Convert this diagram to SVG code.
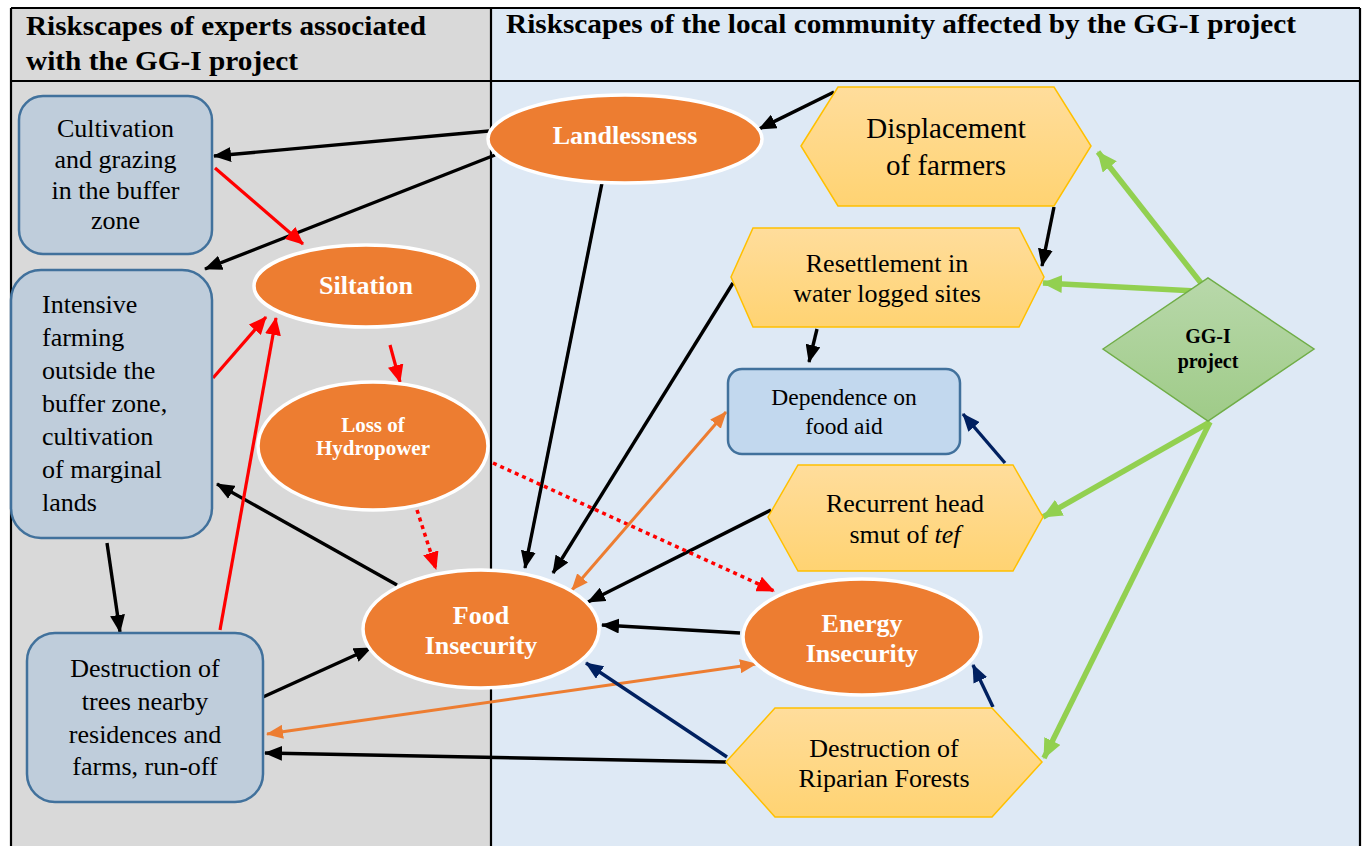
<svg xmlns="http://www.w3.org/2000/svg" width="1364" height="846" viewBox="0 0 1364 846">
  <style>
    .t { font-family: "Liberation Serif", "Times New Roman", serif; fill: #000; }
    .hd { font-size: 27px; font-weight: bold; }
    .n { font-size: 26px; text-anchor: middle; }
    .nl { font-size: 26px; }
    .w { font-family: "Liberation Serif", "Times New Roman", serif; font-weight: bold; fill: #fff; text-anchor: middle; font-size: 26px; }
    .box { fill: #bfcddb; stroke: #41719c; stroke-width: 2.5; }
    .ell { fill: #ed7d31; stroke: #fff; stroke-width: 3.5; }
    .hex { fill: url(#hexFill); stroke: #ffc000; stroke-width: 1.5; }
    .blk { stroke: #000; stroke-width: 3.4; fill: none; marker-end: url(#aBlk); }
    .red { stroke: #ff0000; stroke-width: 3.2; fill: none; marker-end: url(#aRed); }
    .dot { stroke: #ff0000; stroke-width: 3.5; fill: none; stroke-dasharray: 4 4; marker-end: url(#aRed); }
    .org { stroke: #ed7d31; stroke-width: 3; fill: none; marker-start: url(#aOrg); marker-end: url(#aOrg); }
    .nav { stroke: #002060; stroke-width: 3.4; fill: none; marker-end: url(#aNav); }
    .grn { stroke: #92d050; stroke-width: 5.5; fill: none; marker-end: url(#aGrn); }
  </style>
  <defs>
    <linearGradient id="hexFill" x1="0" y1="0" x2="0" y2="1">
      <stop offset="0" stop-color="#ffdd9c"/>
      <stop offset="1" stop-color="#ffd372"/>
    </linearGradient>
    <linearGradient id="diaFill" x1="0" y1="0" x2="0" y2="1">
      <stop offset="0" stop-color="#b8d8aa"/>
      <stop offset="1" stop-color="#9fcb88"/>
    </linearGradient>
    <marker id="aBlk" markerUnits="userSpaceOnUse" markerWidth="18" markerHeight="15" refX="17" refY="7.5" orient="auto-start-reverse">
      <path d="M0,0 L18,7.5 L0,15 z" fill="#000"/>
    </marker>
    <marker id="aRed" markerUnits="userSpaceOnUse" markerWidth="18" markerHeight="16" refX="17" refY="8" orient="auto-start-reverse">
      <path d="M0,0 L18,8 L0,16 z" fill="#ff0000"/>
    </marker>
    <marker id="aOrg" markerUnits="userSpaceOnUse" markerWidth="17" markerHeight="14" refX="16" refY="7" orient="auto-start-reverse">
      <path d="M0,0 L17,7 L0,14 z" fill="#ed7d31"/>
    </marker>
    <marker id="aNav" markerUnits="userSpaceOnUse" markerWidth="18" markerHeight="15" refX="17" refY="7.5" orient="auto-start-reverse">
      <path d="M0,0 L18,7.5 L0,15 z" fill="#002060"/>
    </marker>
    <marker id="aGrn" markerUnits="userSpaceOnUse" markerWidth="20" markerHeight="18" refX="19" refY="9" orient="auto-start-reverse">
      <path d="M0,0 L20,9 L0,18 z" fill="#92d050"/>
    </marker>
  </defs>

  <!-- page and two-column table -->
  <rect x="0" y="0" width="1364" height="846" fill="#fff"/>
  <g id="table">
    <rect x="11" y="8" width="480" height="840" fill="#d9d9d9"/>
    <rect x="491" y="8" width="869" height="840" fill="#dee9f5"/>
    <path d="M11,8 H1360 M11,81 H1360 M11,8 V846 M491,8 V846 M1360,8 V846" stroke="#000" stroke-width="2.2" fill="none"/>
    <text class="t hd" x="26" y="35" textLength="400" lengthAdjust="spacingAndGlyphs">Riskscapes of experts associated</text>
    <text class="t hd" x="26" y="70" textLength="272" lengthAdjust="spacingAndGlyphs">with the GG-I project</text>
    <text class="t hd" x="506" y="33" textLength="790" lengthAdjust="spacingAndGlyphs">Riskscapes of the local community affected by the GG-I project</text>
  </g>

  <!-- connectors -->
  <g id="connectors">
    <line class="blk" x1="489" y1="131" x2="214" y2="156"/>
    <line class="blk" x1="495" y1="155" x2="205" y2="269"/>
    <line class="blk" x1="834" y1="92" x2="759" y2="129"/>
    <line class="blk" x1="602" y1="183" x2="525" y2="568"/>
    <line class="blk" x1="733" y1="283" x2="553" y2="573"/>
    <line class="blk" x1="1054" y1="207" x2="1042" y2="266"/>
    <line class="blk" x1="817" y1="329" x2="809" y2="362"/>
    <line class="blk" x1="771" y1="510" x2="588" y2="602"/>
    <line class="blk" x1="740" y1="633" x2="602" y2="625"/>
    <line class="blk" x1="726" y1="762" x2="265" y2="753"/>
    <line class="blk" x1="263" y1="697" x2="371" y2="648"/>
    <line class="blk" x1="397" y1="585" x2="217" y2="484"/>
    <line class="blk" x1="107" y1="543" x2="120" y2="632"/>

    <line class="red" x1="215" y1="168" x2="303" y2="244"/>
    <line class="red" x1="213" y1="378" x2="266" y2="317"/>
    <line class="red" x1="220" y1="630" x2="276" y2="318"/>
    <line class="red" x1="390" y1="345" x2="400" y2="382"/>

    <line class="dot" x1="417" y1="510" x2="436" y2="569"/>
    <line class="dot" x1="493" y1="463" x2="774" y2="591"/>

    <line class="org" x1="572" y1="590" x2="726" y2="412"/>
    <line class="org" x1="267" y1="734" x2="756" y2="664"/>

    <line class="nav" x1="1005" y1="463" x2="963" y2="414"/>
    <line class="nav" x1="727" y1="757" x2="586" y2="663"/>
    <line class="nav" x1="993" y1="707" x2="973" y2="665"/>

    <line class="grn" x1="1201" y1="283" x2="1098" y2="152"/>
    <line class="grn" x1="1196" y1="291" x2="1043" y2="283"/>
    <line class="grn" x1="1210" y1="422" x2="1043" y2="517"/>
    <line class="grn" x1="1210" y1="422" x2="1044" y2="758"/>
  </g>

  <!-- expert-side boxes -->
  <g id="cultivation">
    <rect class="box" x="19" y="96" width="193" height="158" rx="24"/>
    <text class="t n" x="115.5" y="137">Cultivation</text>
    <text class="t n" x="115.5" y="168">and grazing</text>
    <text class="t n" x="115.5" y="199">in the buffer</text>
    <text class="t n" x="115.5" y="229">zone</text>
  </g>
  <g id="intensive-farming">
    <rect class="box" x="11" y="270" width="201" height="268" rx="30"/>
    <text class="t nl" x="42" y="313">Intensive</text>
    <text class="t nl" x="42" y="346">farming</text>
    <text class="t nl" x="42" y="379">outside the</text>
    <text class="t nl" x="42" y="412">buffer zone,</text>
    <text class="t nl" x="42" y="445">cultivation</text>
    <text class="t nl" x="42" y="478">of marginal</text>
    <text class="t nl" x="42" y="511">lands</text>
  </g>
  <g id="tree-destruction">
    <rect class="box" x="27" y="633" width="236" height="169" rx="28"/>
    <text class="t n" x="145" y="677">Destruction of</text>
    <text class="t n" x="145" y="710">trees nearby</text>
    <text class="t n" x="145" y="743">residences and</text>
    <text class="t n" x="145" y="775">farms, run-off</text>
  </g>

  <!-- risk outcomes -->
  <g id="siltation">
    <ellipse class="ell" cx="366" cy="286" rx="112" ry="41"/>
    <text class="w" x="366" y="294">Siltation</text>
  </g>
  <g id="hydropower">
    <ellipse class="ell" cx="373" cy="446" rx="115" ry="64"/>
    <text class="w" x="373" y="432" style="font-size:21px">Loss of</text>
    <text class="w" x="373" y="455" style="font-size:21px">Hydropower</text>
  </g>
  <g id="food-insecurity">
    <ellipse class="ell" cx="481" cy="629" rx="118" ry="59"/>
    <text class="w" x="481" y="624">Food</text>
    <text class="w" x="481" y="654">Insecurity</text>
  </g>
  <g id="landlessness">
    <ellipse class="ell" cx="625" cy="139" rx="137" ry="44"/>
    <text class="w" x="625" y="144">Landlessness</text>
  </g>
  <g id="energy-insecurity">
    <ellipse class="ell" cx="862" cy="637" rx="119" ry="58"/>
    <text class="w" x="862" y="632">Energy</text>
    <text class="w" x="862" y="662">Insecurity</text>
  </g>

  <!-- community-side drivers -->
  <g id="displacement">
    <polygon class="hex" points="801,146 838,87 1054,87 1091,146 1054,206 838,206"/>
    <text class="t n" x="946" y="138" style="font-size:29px">Displacement</text>
    <text class="t n" x="946" y="175" style="font-size:29px">of farmers</text>
  </g>
  <g id="resettlement">
    <polygon class="hex" points="731,277 753,228 1019,228 1044,277 1019,327 753,327"/>
    <text class="t n" x="887" y="272">Resettlement in</text>
    <text class="t n" x="887" y="302">water logged sites</text>
  </g>
  <g id="food-aid">
    <rect x="728" y="369" width="232" height="85" rx="14" fill="#c2d8ee" stroke="#41719c" stroke-width="2.5"/>
    <text class="t n" x="844" y="405" style="font-size:23.5px">Dependence on</text>
    <text class="t n" x="844" y="434" style="font-size:23.5px">food aid</text>
  </g>
  <g id="head-smut">
    <polygon class="hex" points="768,517 798,465 1013,465 1043,517 1013,571 798,571"/>
    <text class="t n" x="905" y="512">Recurrent head</text>
    <text class="t n" x="905" y="543">smut of <tspan font-style="italic">tef</tspan></text>
  </g>
  <g id="riparian">
    <polygon class="hex" points="726,762 775,708 992,708 1042,762 992,817 775,817"/>
    <text class="t n" x="884" y="757">Destruction of</text>
    <text class="t n" x="884" y="787">Riparian Forests</text>
  </g>
  <g id="gg-i-project">
    <polygon points="1103,349 1208,278 1314,349 1208,421" fill="url(#diaFill)" stroke="#70ad47" stroke-width="1.5"/>
    <text class="t" x="1208" y="343" text-anchor="middle" font-weight="bold" font-size="20">GG-I</text>
    <text class="t" x="1208" y="368" text-anchor="middle" font-weight="bold" font-size="20">project</text>
  </g>
</svg>
